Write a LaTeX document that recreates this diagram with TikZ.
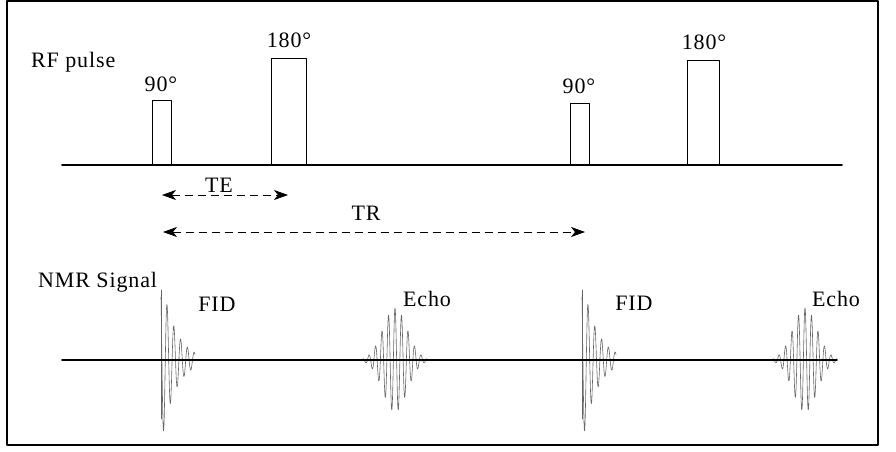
\documentclass[tikz,border=0pt]{standalone}
\usepackage{fontspec}
\setmainfont{Liberation Serif}[LetterSpace=4]
\usetikzlibrary{arrows.meta}

\begin{document}
\begin{tikzpicture}[x=1pt, y=-1pt, line cap=round, line join=round, font=\fontsize{22}{25}\selectfont, >={Stealth[length=14pt,width=10pt,inset=4pt]}]
	\tikzset{pulse/.style={draw, line width=0.7pt, inner sep=0pt, anchor=south west},
		axis/.style={line width=1.6pt},
		wave/.style={black!60, line width=0.6pt},
		lbl/.style={anchor=base, inner sep=0pt},
		span/.style={<->, line width=0.7pt, line cap=butt, dash pattern=on 8pt off 5pt}}
	\useasboundingbox (0,0) rectangle (896,452);
	\draw[line width=1.8pt] (7,1) rectangle (878,445);
	% RF pulses
	\node[pulse, minimum width=19pt, minimum height=64pt] (p90a) at (152,165) {};
	\node[pulse, minimum width=35pt, minimum height=106pt] (p180a) at (271,165) {};
	\node[pulse, minimum width=19pt, minimum height=61pt] (p90b) at (570,165) {};
	\node[pulse, minimum width=32pt, minimum height=104pt] (p180b) at (687,165) {};
	\draw[axis] (62,165)--(842,165);
	\node[lbl, anchor=base west] (rf) at (31,67) {RF pulse};
	\node[lbl] (t90a) at (161,92) {90°};
	\node[lbl] (t180a) at (289,48) {180°};
	\node[lbl] (t90b) at (579,93) {90°};
	\node[lbl] (t180b) at (704,50) {180°};
	% TE and TR
	\coordinate (te0) at (162,195);
	\coordinate (te1) at (288,195);
	\coordinate (tr0) at (163,232);
	\coordinate (tr1) at (585,232);
	\draw[span] (te0)--(te1);
	\draw[span] (tr0)--(tr1);
	\node[lbl] (te) at (219,192) {TE};
	\node[lbl] (tr) at (366,220) {TR};
	% NMR signal
	\foreach \xo in {161,582}{
		\draw[wave] (\xo,290)--(\xo,419);
		\draw[wave, smooth] plot[domain=0:34, samples=220] ({\xo+\x}, {360-85*exp(-\x/14)*sin(\x*360/6.8+132)});
	}
	\foreach \xc in {395,805}{
		\draw[wave, smooth] plot[domain=-32:32, samples=260] ({\xc+\x}, {360-52*exp(-(\x/17)^2)*cos(\x*360/6.5)});
	}
	\draw[axis] (62,360)--(837,360);
	\node[lbl, anchor=base west] (nmr) at (38,287) {NMR Signal};
	\node[lbl] (fid1) at (217,311) {FID};
	\node[lbl] (echo1) at (427,306) {Echo};
	\node[lbl] (fid2) at (634,310) {FID};
	\node[lbl] (echo2) at (836,306) {Echo};
\end{tikzpicture}
\end{document}
